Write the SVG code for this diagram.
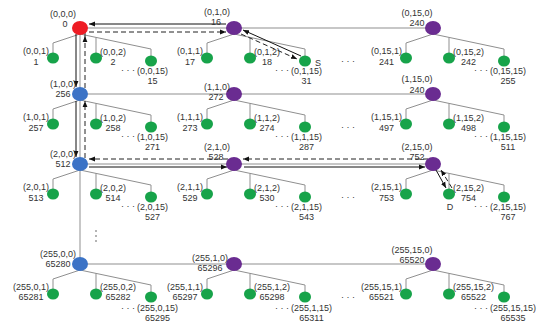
<svg xmlns="http://www.w3.org/2000/svg" width="542" height="328" viewBox="0 0 542 328">
<style>
.t{font-family:"Liberation Sans",Arial,sans-serif;font-size:9px;fill:#333}
.e{text-anchor:end}.m{text-anchor:middle}
.g{stroke:#8f8f8f;stroke-width:1;fill:none}
.p{stroke:#111;stroke-width:1;fill:none;marker-end:url(#ah)}
.d{stroke:#222;stroke-width:1;fill:none;stroke-dasharray:5 3;marker-end:url(#ah)}
.lf{fill:#17a34a}.red{fill:#ee1c24}.pur{fill:#6a2c91}.blu{fill:#3b73c6}
.dot{fill:#555}
</style>
<defs>
<marker id="ah" viewBox="0 0 10 10" refX="10" refY="5" markerWidth="6" markerHeight="6" orient="auto" markerUnits="userSpaceOnUse"><path d="M0,1 L10,5 L0,9 z" fill="#111"/></marker>
<g id="tree"><path class="g" d="M0,6 L-27,15 L-27,25 M0,6 L71,21 L71,28 M16,9.4 L16,25"/></g>
</defs>
<g id="connectors">
<path class="g" d="M80,28 H433 M80,94 H433 M80,164 H433 M80,264 H433 M80,28 V264"/>
<use href="#tree" x="80" y="28"/><use href="#tree" x="234" y="28"/><use href="#tree" x="433" y="28"/>
<use href="#tree" x="80" y="94"/><use href="#tree" x="234" y="94"/><use href="#tree" x="433" y="94"/>
<use href="#tree" x="80" y="164"/><use href="#tree" x="234" y="164"/><use href="#tree" x="433" y="164"/>
<use href="#tree" x="80" y="264"/><use href="#tree" x="234" y="264"/><use href="#tree" x="433" y="264"/>
<path class="p" d="M301,56 L243,30"/>
<path class="p" d="M226,24 H89"/>
<path class="p" d="M76,34 V87"/>
<path class="p" d="M76,101 V157"/>
<path class="p" d="M89,167 H227"/>
<path class="p" d="M244,167 H425"/>
<path class="p" d="M436,170 L446,188"/>
<path class="d" d="M452,188 L441,170"/>
<path class="d" d="M428,159 H243"/>
<path class="d" d="M228,159 H89"/>
<path class="d" d="M85,158 V101"/>
<path class="d" d="M85,88 V36"/>
<path class="d" d="M85,36 V32 H226"/>
<path class="d" d="M241,34 L297,59"/>
</g>
<g id="n0_0_0"><ellipse class="red" cx="80" cy="28" rx="8" ry="7"/><text class="t m" x="63" y="17">(0,0,0)</text><text class="t m" x="65" y="27">0</text></g>
<g id="n0_1_0"><ellipse class="pur" cx="234" cy="28" rx="8" ry="7"/><text class="t m" x="217" y="14.5">(0,1,0)</text><text class="t m" x="216" y="24.5">16</text></g>
<g id="n0_15_0"><ellipse class="pur" cx="433" cy="28" rx="8" ry="7"/><text class="t m" x="417" y="16">(0,15,0)</text><text class="t m" x="417" y="26">240</text></g>
<g id="n1_0_0"><ellipse class="blu" cx="80" cy="94" rx="8" ry="7"/><text class="t m" x="63" y="86.5">(1,0,0)</text><text class="t m" x="63" y="96.5">256</text></g>
<g id="n1_1_0"><ellipse class="pur" cx="234" cy="94" rx="8" ry="7"/><text class="t m" x="217" y="90">(1,1,0)</text><text class="t m" x="216" y="100">272</text></g>
<g id="n1_15_0"><ellipse class="pur" cx="433" cy="94" rx="8" ry="7"/><text class="t m" x="417" y="82">(1,15,0)</text><text class="t m" x="417" y="92.5">240</text></g>
<g id="n2_0_0"><ellipse class="blu" cx="80" cy="164" rx="8" ry="7"/><text class="t m" x="63" y="156.5">(2,0,0)</text><text class="t m" x="63" y="166.5">512</text></g>
<g id="n2_1_0"><ellipse class="pur" cx="234" cy="164" rx="8" ry="7"/><text class="t m" x="217" y="150">(2,1,0)</text><text class="t m" x="216" y="160">528</text></g>
<g id="n2_15_0"><ellipse class="pur" cx="433" cy="164" rx="8" ry="7"/><text class="t m" x="417" y="150">(2,15,0)</text><text class="t m" x="417" y="160">752</text></g>
<g id="n255_0_0"><ellipse class="blu" cx="80" cy="264" rx="8" ry="7"/><text class="t m" x="58" y="256.5">(255,0,0)</text><text class="t m" x="58" y="266.5">65280</text></g>
<g id="n255_1_0"><ellipse class="pur" cx="234" cy="264" rx="8" ry="7"/><text class="t m" x="210" y="260.5">(255,1,0)</text><text class="t m" x="210" y="270.5">65296</text></g>
<g id="n255_15_0"><ellipse class="pur" cx="433" cy="264" rx="8" ry="7"/><text class="t m" x="412" y="252.5">(255,15,0)</text><text class="t m" x="412" y="262.5">65520</text></g>

<g id="n0_0_1"><ellipse class="lf" cx="53" cy="58" rx="6" ry="5.5"/><text class="t e" x="49" y="53.5">(0,0,1)</text><text class="t m" x="36" y="64.5">1</text></g>
<g id="n0_0_2"><ellipse class="lf" cx="96" cy="58" rx="6" ry="5.5"/><text class="t" x="100" y="54.5">(0,0,2)</text><text class="t m" x="113" y="65">2</text></g>
<g id="n0_0_15"><ellipse class="lf" cx="151" cy="61" rx="6" ry="5.5"/><text class="t e" x="135" y="73">· · ·</text><text class="t" x="137" y="74">(0,0,15)</text><text class="t m" x="152.5" y="84">15</text></g>
<g id="n0_1_1"><ellipse class="lf" cx="207" cy="58" rx="6" ry="5.5"/><text class="t e" x="203" y="53.5">(0,1,1)</text><text class="t m" x="190" y="64.5">17</text></g>
<g id="n0_1_2"><ellipse class="lf" cx="250" cy="58" rx="6" ry="5.5"/><text class="t" x="254" y="54.5">(0,1,2)</text><text class="t m" x="267" y="65">18</text></g>
<g id="n0_1_15"><ellipse class="lf" cx="305" cy="61" rx="6" ry="5.5"/><text class="t e" x="289" y="73">· · ·</text><text class="t" x="291" y="74">(0,1,15)</text><text class="t m" x="306.5" y="84">31</text><text class="t m" x="318" y="65.5">S</text></g>
<g id="n0_15_1"><ellipse class="lf" cx="406" cy="58" rx="6" ry="5.5"/><text class="t e" x="402" y="53.5">(0,15,1)</text><text class="t m" x="386.5" y="64.5">241</text></g>
<g id="n0_15_2"><ellipse class="lf" cx="449" cy="58" rx="6" ry="5.5"/><text class="t" x="453" y="54.5">(0,15,2)</text><text class="t m" x="468.5" y="65">242</text></g>
<g id="n0_15_15"><ellipse class="lf" cx="504" cy="61" rx="6" ry="5.5"/><text class="t e" x="488" y="73">· · ·</text><text class="t" x="490" y="74">(0,15,15)</text><text class="t m" x="508" y="84">255</text></g>

<g id="n1_0_1"><ellipse class="lf" cx="53" cy="124" rx="6" ry="5.5"/><text class="t e" x="49" y="119.5">(1,0,1)</text><text class="t m" x="36" y="130.5">257</text></g>
<g id="n1_0_2"><ellipse class="lf" cx="96" cy="124" rx="6" ry="5.5"/><text class="t" x="100" y="120.5">(1,0,2)</text><text class="t m" x="113" y="131">258</text></g>
<g id="n1_0_15"><ellipse class="lf" cx="151" cy="127" rx="6" ry="5.5"/><text class="t e" x="135" y="139">· · ·</text><text class="t" x="137" y="140">(1,0,15)</text><text class="t m" x="152.5" y="150">271</text></g>
<g id="n1_1_1"><ellipse class="lf" cx="207" cy="124" rx="6" ry="5.5"/><text class="t e" x="203" y="119.5">(1,1,1)</text><text class="t m" x="190" y="130.5">273</text></g>
<g id="n1_1_2"><ellipse class="lf" cx="250" cy="124" rx="6" ry="5.5"/><text class="t" x="254" y="120.5">(1,1,2)</text><text class="t m" x="267" y="131">274</text></g>
<g id="n1_1_15"><ellipse class="lf" cx="305" cy="127" rx="6" ry="5.5"/><text class="t e" x="289" y="139">· · ·</text><text class="t" x="291" y="140">(1,1,15)</text><text class="t m" x="306.5" y="150">287</text></g>
<g id="n1_15_1"><ellipse class="lf" cx="406" cy="124" rx="6" ry="5.5"/><text class="t e" x="402" y="119.5">(1,15,1)</text><text class="t m" x="386.5" y="130.5">497</text></g>
<g id="n1_15_2"><ellipse class="lf" cx="449" cy="124" rx="6" ry="5.5"/><text class="t" x="453" y="120.5">(1,15,2)</text><text class="t m" x="468.5" y="131">498</text></g>
<g id="n1_15_15"><ellipse class="lf" cx="504" cy="127" rx="6" ry="5.5"/><text class="t e" x="488" y="139">· · ·</text><text class="t" x="490" y="140">(1,15,15)</text><text class="t m" x="508" y="150">511</text></g>

<g id="n2_0_1"><ellipse class="lf" cx="53" cy="194" rx="6" ry="5.5"/><text class="t e" x="49" y="189.5">(2,0,1)</text><text class="t m" x="36" y="200.5">513</text></g>
<g id="n2_0_2"><ellipse class="lf" cx="96" cy="194" rx="6" ry="5.5"/><text class="t" x="100" y="190.5">(2,0,2)</text><text class="t m" x="113" y="201">514</text></g>
<g id="n2_0_15"><ellipse class="lf" cx="151" cy="197" rx="6" ry="5.5"/><text class="t e" x="135" y="209">· · ·</text><text class="t" x="137" y="210">(2,0,15)</text><text class="t m" x="152.5" y="220">527</text></g>
<g id="n2_1_1"><ellipse class="lf" cx="207" cy="194" rx="6" ry="5.5"/><text class="t e" x="203" y="189.5">(2,1,1)</text><text class="t m" x="190" y="200.5">529</text></g>
<g id="n2_1_2"><ellipse class="lf" cx="250" cy="194" rx="6" ry="5.5"/><text class="t" x="254" y="190.5">(2,1,2)</text><text class="t m" x="267" y="201">530</text></g>
<g id="n2_1_15"><ellipse class="lf" cx="305" cy="197" rx="6" ry="5.5"/><text class="t e" x="289" y="209">· · ·</text><text class="t" x="291" y="210">(2,1,15)</text><text class="t m" x="306.5" y="220">543</text></g>
<g id="n2_15_1"><ellipse class="lf" cx="406" cy="194" rx="6" ry="5.5"/><text class="t e" x="402" y="189.5">(2,15,1)</text><text class="t m" x="386.5" y="200.5">753</text></g>
<g id="n2_15_2"><ellipse class="lf" cx="449" cy="194" rx="6" ry="5.5"/><text class="t" x="453" y="190.5">(2,15,2)</text><text class="t m" x="468.5" y="201">754</text><text class="t m" x="450" y="209.5">D</text></g>
<g id="n2_15_15"><ellipse class="lf" cx="504" cy="197" rx="6" ry="5.5"/><text class="t e" x="488" y="209">· · ·</text><text class="t" x="490" y="210">(2,15,15)</text><text class="t m" x="508" y="220">767</text></g>

<g id="n255_0_1"><ellipse class="lf" cx="53" cy="294" rx="6" ry="5.5"/><text class="t e" x="49" y="289.5">(255,0,1)</text><text class="t m" x="31" y="300">65281</text></g>
<g id="n255_0_2"><ellipse class="lf" cx="96" cy="294" rx="6" ry="5.5"/><text class="t" x="100" y="290">(255,0,2)</text><text class="t m" x="118" y="300">65282</text></g>
<g id="n255_0_15"><ellipse class="lf" cx="151" cy="297" rx="6" ry="5.5"/><text class="t e" x="135" y="310.5">· · ·</text><text class="t" x="137" y="310.5">(255,0,15)</text><text class="t m" x="157.5" y="320.5">65295</text></g>
<g id="n255_1_1"><ellipse class="lf" cx="207" cy="294" rx="6" ry="5.5"/><text class="t e" x="203" y="289.5">(255,1,1)</text><text class="t m" x="185" y="300">65297</text></g>
<g id="n255_1_2"><ellipse class="lf" cx="250" cy="294" rx="6" ry="5.5"/><text class="t" x="254" y="290">(255,1,2)</text><text class="t m" x="272" y="300">65298</text></g>
<g id="n255_1_15"><ellipse class="lf" cx="305" cy="297" rx="6" ry="5.5"/><text class="t e" x="289" y="310.5">· · ·</text><text class="t" x="291" y="310.5">(255,1,15)</text><text class="t m" x="311.5" y="320.5">65311</text></g>
<g id="n255_15_1"><ellipse class="lf" cx="406" cy="294" rx="6" ry="5.5"/><text class="t e" x="402" y="289.5">(255,15,1)</text><text class="t m" x="381.5" y="300">65521</text></g>
<g id="n255_15_2"><ellipse class="lf" cx="449" cy="294" rx="6" ry="5.5"/><text class="t" x="453" y="290">(255,15,2)</text><text class="t m" x="473.5" y="300">65522</text></g>
<g id="n255_15_15"><ellipse class="lf" cx="504" cy="297" rx="6" ry="5.5"/><text class="t e" x="488" y="310.5">· · ·</text><text class="t" x="490" y="310.5">(255,15,15)</text><text class="t m" x="513" y="320.5">65535</text></g>

<g id="ellipsis">
<text class="t m" x="348" y="64">· · ·</text>
<text class="t m" x="348" y="130">· · ·</text>
<text class="t m" x="348" y="200">· · ·</text>
<text class="t m" x="348" y="300">· · ·</text>
<circle class="dot" cx="96" cy="231" r="0.8"/><circle class="dot" cx="96" cy="236" r="0.8"/><circle class="dot" cx="96" cy="241" r="0.8"/>
</g>
</svg>
